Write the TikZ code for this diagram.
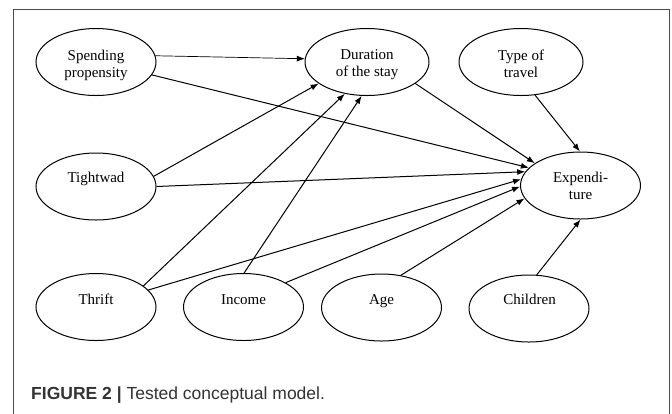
\documentclass[tikz,border=0pt]{standalone}
\usepackage{fontspec}
\setmainfont{Liberation Serif}
\newfontfamily\capfont{Liberation Sans}
\usetikzlibrary{shapes.geometric,arrows.meta,calc}
\definecolor{framegray}{HTML}{4A4A4A}
\definecolor{captext}{HTML}{333333}
\begin{document}
\begin{tikzpicture}[x=1bp,y=-1bp,
  ell/.style={ellipse, draw=black, line width=1bp, minimum width=120bp, minimum height=67bp, inner sep=0pt},
  wideell/.style={ell, minimum width=124bp},
  lbl/.style={font=\fontsize{15bp}{17bp}\selectfont, align=center, inner sep=0pt, anchor=base},
  arr/.style={-{Latex[length=8bp,width=6bp]}, line width=1bp},
  thinarr/.style={arr, line width=0.7bp},
]
\useasboundingbox (0,0) rectangle (672,413);
\fill[white] (0,0) rectangle (672,413);
% frame
\draw[framegray, line width=1bp] (13,414) -- (13,9) -- (669,9) -- (669,414);

% ellipses
\node[ell] (sp) at (96,62) {};
\node[wideell] (du) at (367,62) {};
\node[wideell] (ty) at (521,62) {};
\node[ell] (tw) at (96,186.5) {};
\node[ell] (ex) at (580.5,185.5) {};
\node[ell] (th) at (96,307) {};
\node[ell] (inc) at (243.5,307) {};
\node[ell] (ag) at (381.5,307.5) {};
\node[ell] (ch) at (529,308.5) {};

% labels (base = last line's baseline)
\node[lbl] (spl) at (96,77) {Spending\\propensity};
\node[lbl] (dul) at (367,76) {Duration\\of the stay};
\node[lbl] (tyl) at (521,77) {Type of\\travel};
\node[lbl] (twl) at (96,182.5) {Tightwad};
\node[lbl] (exl) at (580.5,199) {Expendi-\\ture};
\node[lbl] (thl) at (96,304) {Thrift};
\node[lbl] (incl) at (243.5,304) {Income};
\node[lbl] (agl) at (381.5,304.5) {Age};
\node[lbl] (chl) at (529.5,304.5) {Children};

% connectors
\draw[thinarr] (sp.6.7) -- (du.177);
\draw[arr] (sp.-13.8) -- (ex.161.4);
\draw[arr] (tw.10) -- (du.204);
\draw[arr] (tw.0) -- (ex.166.9);
\draw[arr] (th.24) -- (du.235);
\draw[arr] (th.18.8) -- (ex.174.8);
\draw[arr] (inc.89) -- (du.261.6);
\draw[arr] (inc.30.5) -- (ex.181.4);
\draw[arr] (ag.59.8) -- (ex.193.8);
\draw[arr] (ch.77) -- (ex.270);
\draw[arr] (du.-24) -- (ex.154.8);
\draw[arr] (ty.-67) -- (ex.91.7);

% caption
\node[anchor=base west, inner sep=0pt, text=captext, font=\capfont\fontsize{17.5bp}{20bp}\selectfont] (cap) at (31,399) {\textbf{FIGURE 2 |} Tested conceptual model.};
\end{tikzpicture}
\end{document}
